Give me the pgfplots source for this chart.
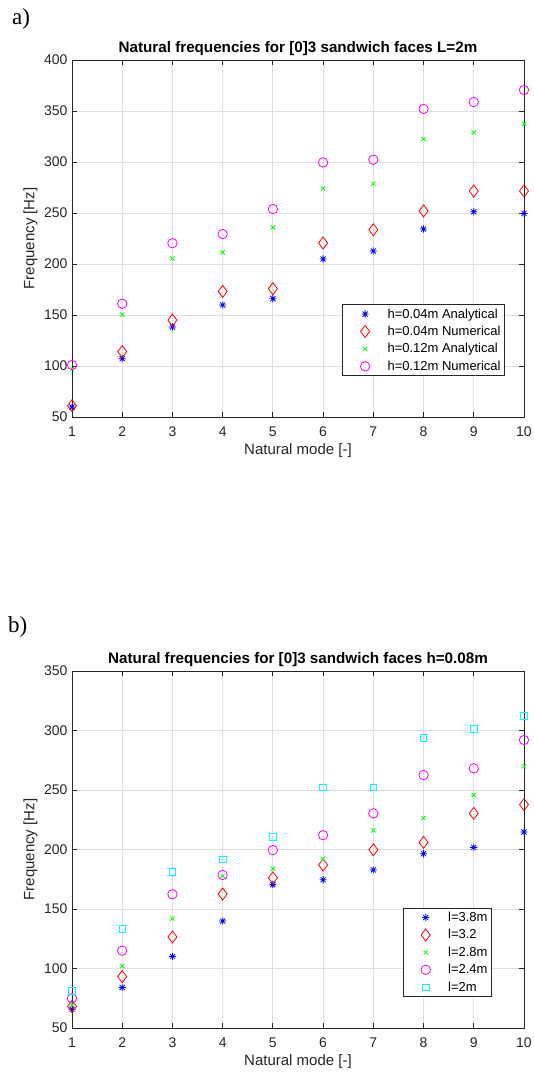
\documentclass[border=0pt]{standalone}
\usepackage{fontspec}
\setmainfont{Liberation Sans}
\newfontfamily\serifface{Liberation Serif}
\usepackage{pgfplots}
\pgfplotsset{compat=1.18}

\definecolor{axgray}{RGB}{38,38,38}
\definecolor{gridgray}{RGB}{223,223,223}
\definecolor{mblue}{RGB}{0,0,255}
\definecolor{mred}{RGB}{255,0,0}
\definecolor{mgreen}{RGB}{0,255,0}
\definecolor{mmag}{RGB}{255,0,255}
\definecolor{mcyan}{RGB}{0,255,255}

% MATLAB-style 8-point asterisk
\pgfdeclareplotmark{ast8}{%
  \pgfpathmoveto{\pgfqpoint{-\pgfplotmarksize}{0pt}}\pgfpathlineto{\pgfqpoint{\pgfplotmarksize}{0pt}}%
  \pgfpathmoveto{\pgfqpoint{0pt}{-\pgfplotmarksize}}\pgfpathlineto{\pgfqpoint{0pt}{\pgfplotmarksize}}%
  \pgfpathmoveto{\pgfqpoint{-.707\pgfplotmarksize}{-.707\pgfplotmarksize}}\pgfpathlineto{\pgfqpoint{.707\pgfplotmarksize}{.707\pgfplotmarksize}}%
  \pgfpathmoveto{\pgfqpoint{-.707\pgfplotmarksize}{.707\pgfplotmarksize}}\pgfpathlineto{\pgfqpoint{.707\pgfplotmarksize}{-.707\pgfplotmarksize}}%
  \pgfusepathqstroke}

\pgfplotsset{
  every axis title shift=0pt,
  matfig/.style={
    scale only axis, width=452pt, height=357pt,
    xmin=1, xmax=10, xtick={1,...,10},
    grid=major, grid style={color=gridgray, line width=0.8pt},
    axis line style={color=axgray, line width=0.8pt},
    tick style={color=axgray, line width=0.8pt},
    tick align=inside, tick pos=both, major tick length=5pt,
    tick label style={font=\fontsize{14}{16}\selectfont, color=axgray},
    xticklabel style={anchor=center, yshift=-14.7pt},
    yticklabel style={xshift=-1pt},
    /pgf/number format/assume math mode=true,
    xlabel={Natural mode [-]}, ylabel={Frequency [Hz]},
    label style={font=\fontsize{15}{17}\selectfont, color=axgray},
    xlabel style={at={(axis description cs:0.5,-0.0952)}, anchor=center},
    ylabel style={at={(axis description cs:-0.092,0.5)}, anchor=center},
    title style={font=\bfseries\fontsize{15.2}{17}\selectfont, at={(axis description cs:0.5,1.0204)}, anchor=base},
    legend cell align=left,
    legend style={draw=axgray, line width=0.8pt, fill=white,
      font=\fontsize{13}{15}\selectfont, inner sep=2pt, row sep=2.5pt},
    legend image code/.code={\path (0pt,0pt) (40pt,0pt); \draw[##1] plot coordinates {(20pt,0pt)};},
  },
  s1/.style={only marks, mark=ast8, mark size=3.6pt, color=mblue, line width=0.8pt},
  s2/.style={only marks, mark=diamond, mark size=6pt, color=mred, line width=0.8pt},
  s3/.style={only marks, mark=x, mark size=3pt, color=mgreen, line width=0.8pt},
  s4/.style={only marks, mark=o, mark size=4.7pt, color=mmag, line width=0.8pt},
  s5/.style={only marks, mark=square, mark size=3.3pt, color=mcyan, line width=0.8pt},
}

\begin{document}
\begin{tikzpicture}
\useasboundingbox (0pt,0pt) rectangle (534pt,-1074pt);
\node[anchor=north west, inner sep=0pt, font=\serifface\fontsize{23}{23}\selectfont] at (12pt,-8pt) {a)};
\node[anchor=north west, inner sep=0pt, font=\serifface\fontsize{23}{23}\selectfont] at (8pt,-616pt) {b)};

\begin{axis}[matfig, at={(72pt,-417pt)}, anchor=south west,
  ymin=50, ymax=400, ytick={50,100,...,400},
  title={Natural frequencies for [0]3 sandwich faces L=2m},
  legend style={at={(0.958,0.316)}, anchor=north east}]
\addplot[s1] coordinates {(1,59.8)(2,107.2)(3,138.2)(4,159.8)(5,166)(6,204.9)(7,212.7)(8,234.3)(9,251.3)(10,249.6)};
\addplot[s2] coordinates {(1,61.1)(2,114.1)(3,145)(4,173.1)(5,175.8)(6,220.6)(7,233.6)(8,252)(9,271.6)(10,271.6)};
\addplot[s3] coordinates {(1,97)(2,150.3)(3,205.5)(4,211.4)(5,235.9)(6,274.1)(7,278.7)(8,322.5)(9,329)(10,337.5)};
\addplot[s4] coordinates {(1,101)(2,161.1)(3,220.4)(4,229.4)(5,253.9)(6,299.6)(7,302.3)(8,352)(9,358.8)(10,370.6)};
\legend{h=0.04m Analytical, h=0.04m Numerical, h=0.12m Analytical, h=0.12m Numerical}
\end{axis}

\begin{axis}[matfig, at={(72pt,-1028pt)}, anchor=south west,
  ymin=50, ymax=350, ytick={50,100,...,350},
  title={Natural frequencies for [0]3 sandwich faces h=0.08m},
  legend style={at={(0.929,0.337)}, anchor=north east}]
\addplot[s1] coordinates {(1,65.7)(2,84)(3,110.2)(4,139.9)(5,170.5)(6,174.6)(7,182.8)(8,196.5)(9,201.8)(10,214.7)};
\addplot[s2] coordinates {(1,68.2)(2,93.2)(3,126.5)(4,162.6)(5,176.2)(6,187)(7,199.8)(8,206)(9,230.4)(10,237.7)};
\addplot[s3] coordinates {(1,69.3)(2,102.1)(3,142)(4,177.8)(5,183.9)(6,192.3)(7,216.1)(8,226.5)(9,245.8)(10,269.9)};
\addplot[s4] coordinates {(1,75)(2,115)(3,162.4)(4,178.6)(5,199.5)(6,212)(7,230.4)(8,262.6)(9,268.2)(10,292)};
\addplot[s5] coordinates {(1,81.4)(2,133.5)(3,181.4)(4,191.8)(5,210.5)(6,252.3)(7,252.3)(8,294)(9,301.3)(10,312.2)};
\legend{l=3.8m, l=3.2, l=2.8m, l=2.4m, l=2m}
\end{axis}
\end{tikzpicture}
\end{document}
